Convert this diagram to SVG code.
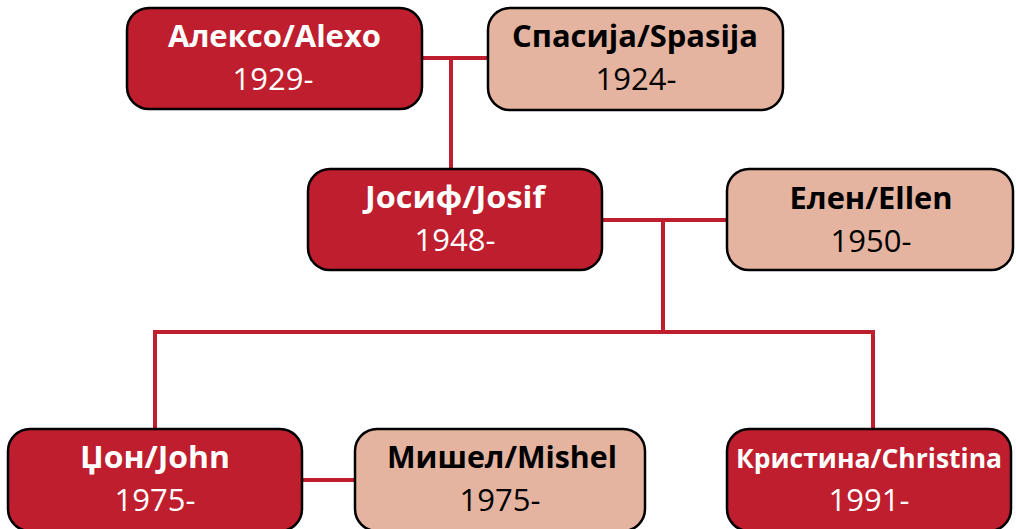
<svg xmlns="http://www.w3.org/2000/svg" width="1016" height="529" viewBox="0 0 1016 529">
<style>
.red{fill:#BE1E2D;stroke:#000;stroke-width:2.5}
.peach{fill:#E4B4A0;stroke:#000;stroke-width:2.5}
.name{font-family:"Open Sans","Liberation Sans",sans-serif;font-weight:bold;font-size:30px;text-anchor:middle}
.year{font-family:"Open Sans","Liberation Sans",sans-serif;font-size:31px;text-anchor:middle}
.w{fill:#fff}
.k{fill:#000}
.conn{stroke:#BE1E2D;stroke-width:4;fill:none}
</style>
<rect width="1016" height="529" fill="#fff"/>
<g id="connectors" class="conn">
<line x1="422" y1="58" x2="488" y2="58"/>
<line x1="451" y1="58" x2="451" y2="169"/>
<line x1="602" y1="220" x2="727" y2="220"/>
<line x1="663" y1="220" x2="663" y2="332"/>
<polyline points="155,429 155,332 873,332 873,429"/>
<line x1="302" y1="480" x2="355" y2="480"/>
</g>
<g id="alexo">
<rect class="red" x="127" y="8" width="295" height="101" rx="22"/>
<text class="name w" x="274.5" y="47" textLength="213" lengthAdjust="spacingAndGlyphs">Алексо/Alexo</text>
<text class="year w" x="273" y="90">1929-</text>
</g>
<g id="spasija">
<rect class="peach" x="488" y="8" width="295" height="102" rx="22"/>
<text class="name k" x="635" y="47" textLength="246" lengthAdjust="spacingAndGlyphs">Спасија/Spasija</text>
<text class="year k" x="636" y="90">1924-</text>
</g>
<g id="josif">
<rect class="red" x="308" y="169" width="294" height="101" rx="22"/>
<text class="name w" x="455" y="208" textLength="180" lengthAdjust="spacingAndGlyphs">Јосиф/Josif</text>
<text class="year w" x="455" y="251">1948-</text>
</g>
<g id="ellen">
<rect class="peach" x="727" y="169" width="286" height="101" rx="22"/>
<text class="name k" x="871" y="209" textLength="163" lengthAdjust="spacingAndGlyphs">Елен/Ellen</text>
<text class="year k" x="871" y="252">1950-</text>
</g>
<g id="john">
<rect class="red" x="8" y="429" width="294" height="102" rx="22"/>
<text class="name w" x="155" y="468" textLength="150" lengthAdjust="spacingAndGlyphs">Џон/John</text>
<text class="year w" x="155" y="511">1975-</text>
</g>
<g id="mishel">
<rect class="peach" x="355" y="429" width="290" height="102" rx="22"/>
<text class="name k" x="502" y="468" textLength="230" lengthAdjust="spacingAndGlyphs">Мишел/Mishel</text>
<text class="year k" x="500" y="511">1975-</text>
</g>
<g id="christina">
<rect class="red" x="727" y="429" width="284" height="102" rx="22"/>
<text class="name w" x="869" y="468" style="font-size:26.5px">Кристина/Christina</text>
<text class="year w" x="869" y="511">1991-</text>
</g>
</svg>
